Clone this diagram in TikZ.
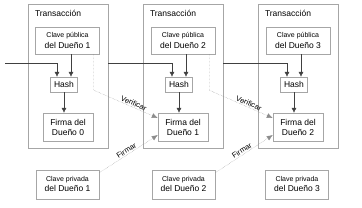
\documentclass[tikz,border=0pt]{standalone}
\usepackage{fontspec}
\setmainfont{Liberation Sans}
\usetikzlibrary{arrows.meta}

\begin{document}
\begin{tikzpicture}[x=1pt, y=1pt,
        tx/.style={rectangle, draw=gray!70, minimum width=80pt, minimum height=144pt, inner sep=0pt},
        title/.style={anchor=north west, inner sep=0pt, font=\fontsize{8.5}{10}\selectfont},
        pubkey/.style={rectangle, draw=gray!70, fill=white, minimum width=64pt, minimum height=27pt, align=center, inner sep=0pt, font=\fontsize{8.5}{11}\selectfont},
        hashbox/.style={rectangle, draw=gray!70, fill=white, minimum width=27pt, minimum height=15pt, inner sep=0pt, font=\fontsize{8.5}{10}\selectfont},
        sig/.style={rectangle, draw=gray!70, fill=white, minimum width=50pt, minimum height=28pt, align=center, inner sep=0pt, font=\fontsize{8.5}{10}\selectfont},
        privkey/.style={rectangle, draw=gray!70, fill=white, minimum width=63pt, minimum height=29pt, align=center, inner sep=0pt, font=\fontsize{8.5}{10}\selectfont},
        arrow/.style={draw=black!75, ->, >={Latex[length=5pt, width=5pt]}},
        dotarrow/.style={draw=gray!90, densely dotted, ->, >={Latex[length=6pt, width=5pt]}},
        tag/.style={sloped, above, inner sep=1pt, text=black, font=\fontsize{7.5}{8}\selectfont}
    ]
        \useasboundingbox (0,0) rectangle (362,-207);

        \node[tx] (tx1) at (68,-76) {};
        \node[tx] (tx2) at (183,-76) {};
        \node[tx] (tx3) at (298,-76) {};
        \node[title] (title1) at ([xshift=7pt, yshift=-6pt]tx1.north west) {Transacción};
        \node[title] (title2) at ([xshift=7pt, yshift=-6pt]tx2.north west) {Transacción};
        \node[title] (title3) at ([xshift=7pt, yshift=-6pt]tx3.north west) {Transacción};

        \node[pubkey] (pub1) at (67.5,-40.5) {{\fontsize{7}{8}\selectfont Clave pública}\\del Dueño 1};
        \node[pubkey] (pub2) at (183,-40.5) {{\fontsize{7}{8}\selectfont Clave pública}\\del Dueño 2};
        \node[pubkey] (pub3) at (298,-40.5) {{\fontsize{7}{8}\selectfont Clave pública}\\del Dueño 3};

        \node[hashbox] (hash1) at (64,-84.5) {Hash};
        \node[hashbox] (hash2) at (179,-84.5) {Hash};
        \node[hashbox] (hash3) at (294,-84.5) {Hash};

        \node[sig] (firma1) at (68,-127) {Firma del\\Dueño 0};
        \node[sig] (firma2) at (183,-127) {Firma del\\Dueño 1};
        \node[sig] (firma3) at (298,-127) {Firma del\\Dueño 2};

        \node[privkey] (priv1) at (67.5,-184.5) {{\fontsize{7}{8}\selectfont Clave privada}\\del Dueño 1};
        \node[privkey] (priv2) at (183.5,-184.5) {{\fontsize{7}{8}\selectfont Clave privada}\\del Dueño 2};
        \node[privkey] (priv3) at (297,-184.5) {{\fontsize{7}{8}\selectfont Clave privada}\\del Dueño 3};

        \coordinate (prev) at (5,-63);

        % previous transaction into hash
        \draw[arrow] (prev) -| ([xshift=-7pt]hash1.north);
        \draw[arrow] (tx1.east |- prev) -| ([xshift=-7pt]hash2.north);
        \draw[arrow] (tx2.east |- prev) -| ([xshift=-7pt]hash3.north);

        % public key into hash
        \draw[arrow] ([xshift=7pt]hash1.north |- pub1.south) -- ([xshift=7pt]hash1.north);
        \draw[arrow] ([xshift=7pt]hash2.north |- pub2.south) -- ([xshift=7pt]hash2.north);
        \draw[arrow] ([xshift=7pt]hash3.north |- pub3.south) -- ([xshift=7pt]hash3.north);

        \draw[arrow] (hash1) -- (hash1 |- firma1.north);
        \draw[arrow] (hash2) -- (hash2 |- firma2.north);
        \draw[arrow] (hash3) -- (hash3 |- firma3.north);

        \draw[dotarrow] ([xshift=-6pt]pub1.south east) -- ++(0,-36) -- ([yshift=9pt]firma2.west) node[tag, pos=0.6] {Verificar};
        \draw[dotarrow] ([xshift=-6pt]pub2.south east) -- ++(0,-36) -- ([yshift=9pt]firma3.west) node[tag, pos=0.6] {Verificar};
        \draw[dotarrow] ([yshift=-3pt]priv1.north east) -- ([yshift=-8pt]firma2.west) node[tag, pos=0.5] {Firmar};
        \draw[dotarrow] ([yshift=-3pt]priv2.north east) -- ([yshift=-8pt]firma3.west) node[tag, pos=0.5] {Firmar};
    \end{tikzpicture}
\end{document}
